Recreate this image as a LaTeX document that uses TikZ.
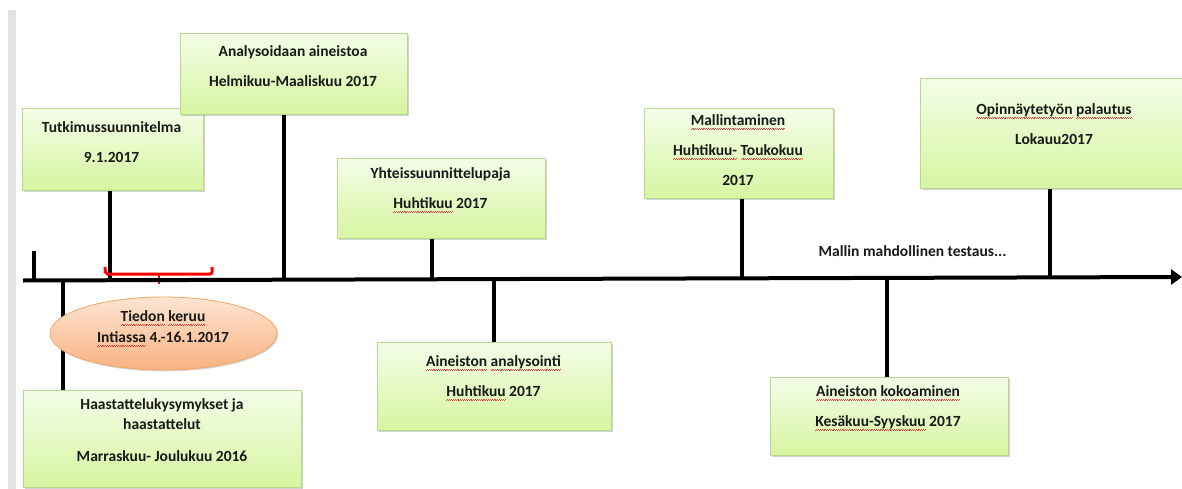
\documentclass[tikz,border=0pt]{standalone}
\usepackage{fontspec}
\setmainfont{Carlito}
\usetikzlibrary{arrows.meta,shadows,shapes.geometric}

\definecolor{boxtop}{HTML}{F4FDE8}
\definecolor{boxbot}{HTML}{D6F5A0}
\definecolor{boxedge}{HTML}{B9D78E}
\definecolor{ovaltop}{HTML}{FDE5D3}
\definecolor{ovalbot}{HTML}{F9B280}
\definecolor{ovaledge}{HTML}{F2A565}
\definecolor{sidebar}{HTML}{E3E3E3}
\definecolor{flagred}{HTML}{F04040}

% red wavy underline for flagged words
\newsavebox\flagbox
\newcommand\flag[1]{\sbox\flagbox{#1}\usebox\flagbox\llap{\textcolor{flagred}{\hbox to \wd\flagbox{\xleaders\hbox{\rule[-3.3pt]{0.9pt}{0.45pt}\rule[-2.8pt]{0.9pt}{0.45pt}}\hfill}}}}

\tikzset{
  phase/.style={draw=boxedge, line width=0.8pt, top color=boxtop, bottom color=boxbot,
    drop shadow={shadow xshift=1.2pt, shadow yshift=-1.5pt, opacity=0.35},
    inner sep=0pt, anchor=north west},
  oval/.style={ellipse, draw=ovaledge, line width=0.8pt, top color=ovaltop, bottom color=ovalbot,
    drop shadow={shadow xshift=1.2pt, shadow yshift=-1.5pt, opacity=0.3}, inner sep=0pt},
  lbl/.style={font=\bfseries\fontsize{15.5}{30}\selectfont, align=center, text=black!90, inner sep=0pt},
  stem/.style={line width=3.6pt},
  axis/.style={line width=4pt, -{Triangle[length=11pt,width=15pt]}},
}

\begin{document}
\begin{tikzpicture}[x=1pt,y=-1pt]
\useasboundingbox (0,0) rectangle (1182,489);
\clip (0,0) rectangle (1182,489);

% page edge on the left
\fill[sidebar] (8,10) rectangle (16,489);

% points on the time axis
\coordinate (start) at (23,280.5);
\coordinate (end) at (1182,277);
\coordinate (x0) at (34,280.4);
\coordinate (x1) at (110,280.2);
\coordinate (x2) at (284,279.7);
\coordinate (x3) at (432,279.3);
\coordinate (x4) at (494,279.1);
\coordinate (x5) at (742,278.3);
\coordinate (x6) at (1050,277.4);
\coordinate (x7) at (887,277.9);
\coordinate (x8) at (63,280.4);
\coordinate (tick) at (34,251);

% boxes
\node[phase, minimum width=181pt, minimum height=82pt] (b1) at (22,108) {};
\node[phase, minimum width=227pt, minimum height=81pt] (b2) at (180,33) {};
\node[phase, minimum width=208pt, minimum height=80pt] (b3) at (337,158) {};
\node[phase, minimum width=234pt, minimum height=88pt] (b4) at (377,342) {};
\node[phase, minimum width=189pt, minimum height=90pt] (b5) at (644,108) {};
\node[phase, minimum width=270pt, minimum height=110pt] (b6) at (920,78) {};
\node[phase, minimum width=238pt, minimum height=78pt] (b7) at (770,377) {};
\node[phase, minimum width=278pt, minimum height=97pt] (b8) at (23,390) {};

% stems from the boxes to the axis
\draw[stem] (tick) -- (x0);
\draw[stem] (b1.south -| x1) -- (x1);
\draw[stem] (b2.south -| x2) -- (x2);
\draw[stem] (b3.south -| x3) -- (x3);
\draw[stem] (b4.north -| x4) -- (x4);
\draw[stem] (b5.south -| x5) -- (x5);
\draw[stem] (b6.south -| x6) -- (x6);
\draw[stem] (b7.north -| x7) -- (x7);
\draw[stem] (b8.north -| x8) -- (x8);

% red bracket over the data collection period
\coordinate (brL) at (105,267);
\coordinate (brR) at (212,267);
\coordinate (brM) at (159,274);
\coordinate (brT) at (159,284);
\draw[red, line width=3pt, rounded corners=2pt] (brL) -- (105.5,274) -- (brM) -- (212,274) -- (brR);
\draw[red, line width=2pt] (brM) -- (brT);

% time axis
\draw[axis] (start) -- (end);

% oval for the field period
\node[oval, minimum width=227pt, minimum height=73pt] (e) at (163.5,333.5) {};

% texts
\node[lbl] (t1) at (111.5,142) {Tutkimussuunnitelma\\9.1.2017};
\node[lbl] (t2) at (293,66) {Analysoidaan aineistoa\\Helmikuu-Maaliskuu 2017};
\node[lbl] (t3) at (440.5,190) {Yhteissuunnittelupaja\\\flag{Huhtikuu} 2017};
\node[lbl] (t4) at (493.5,378) {\flag{Aineiston} \flag{analysointi}\\\flag{Huhtikuu} 2017};
\node[lbl] (t5) at (738,150.5) {\flag{Mallintaminen}\\\flag{Huhtikuu-} \flag{Toukokuu}\\2017};
\node[lbl] (t6) at (1054,124.5) {\flag{Opinnäytetyön} \flag{palautus}\\Lokauu2017};
\node[lbl] (t7) at (888,408) {\flag{Aineiston} \flag{kokoaminen}\\\flag{Kesäkuu-Syyskuu} 2017};
\node[lbl] (t8) at (162,430) {Haastattelukysymykset ja\\[-10pt]haastattelut\\[2pt]Marraskuu- Joulukuu 2016};
\node[lbl] (t9) at (163,328.5) {\flag{Tiedon} \flag{keruu}\\[-9pt]\flag{Intiassa} 4.-16.1.2017};
\node[lbl] (note) at (912.5,251) {Mallin mahdollinen testaus...};
\end{tikzpicture}
\end{document}
